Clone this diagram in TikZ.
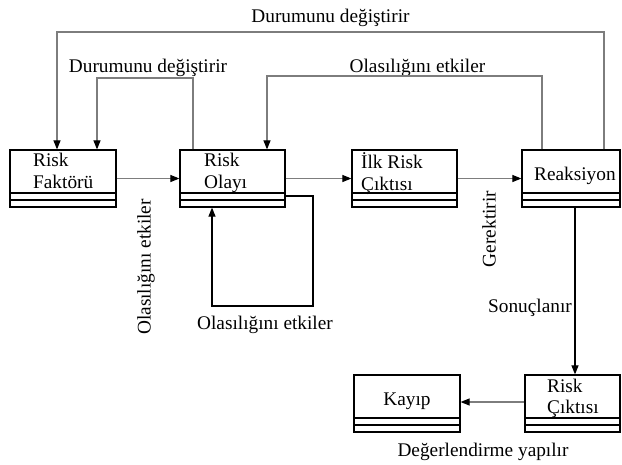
\documentclass[tikz,border=0pt]{standalone}
\usepackage{fontspec}
\setmainfont{Liberation Serif}
\usetikzlibrary{arrows.meta}
\definecolor{lg}{RGB}{125,125,125}
\begin{document}
\begin{tikzpicture}[x=1pt,y=-1pt,
  box/.style={draw=black, line width=1.2pt, rectangle, inner sep=0pt, minimum height=57pt,
    path picture={
      \draw[line width=1.2pt] ([yshift=14pt]path picture bounding box.south west) -- ([yshift=14pt]path picture bounding box.south east);
      \draw[line width=1.2pt] ([yshift=7pt]path picture bounding box.south west) -- ([yshift=7pt]path picture bounding box.south east);}},
  txt/.style={inner sep=0pt, font=\fontsize{19.3}{22}\selectfont},
  gline/.style={draw=lg, line width=1.1pt},
  bline/.style={draw=black, line width=1.1pt},
  arr/.style={-{Triangle[length=9pt,width=7pt,color=black]}}
]
\useasboundingbox (0,0) rectangle (622,464);

% boxes
\node[box, minimum width=106pt] (rf) at (63,178.5) {};
\node[box, minimum width=105pt] (ro) at (232.5,178.5) {};
\node[box, minimum width=105pt] (ilk) at (404.5,178.5) {};
\node[box, minimum width=98pt] (rx) at (571,178.5) {};
\node[box, minimum width=95pt] (rc) at (572.5,403.5) {};
\node[box, minimum width=106pt] (ky) at (407,403.5) {};

% box texts
\node[txt, anchor=base west] (rf1) at (33,166) {Risk};
\node[txt, anchor=base west] (rf2) at (33,188) {Faktörü};
\node[txt, anchor=base west] (ro1) at (204,166) {Risk};
\node[txt, anchor=base west] (ro2) at (204,188) {Olayı};
\node[txt, anchor=base west] (ilk1) at (361,168) {İlk Risk};
\node[txt, anchor=base west] (ilk2) at (361,190) {Çıktısı};
\node[txt, anchor=base west] (rx1) at (534,180) {Reaksiyon};
\node[txt, anchor=base west] (rc1) at (547,392) {Risk};
\node[txt, anchor=base west] (rc2) at (547,413) {Çıktısı};
\node[txt, anchor=base] (ky1) at (407,405) {Kayıp};

% labels
\node[txt, anchor=base] (l1) at (330.5,22) {Durumunu değiştirir};
\node[txt, anchor=base] (l2) at (148,72) {Durumunu değiştirir};
\node[txt, anchor=base] (l3) at (417.5,72) {Olasılığını etkiler};
\node[txt, anchor=base] (l4) at (265,329) {Olasılığını etkiler};
\node[txt, rotate=90] (l5) at (146,267) {Olasılığını etkiler};
\node[txt, rotate=90] (l6) at (489,229) {Gerektirir};
\node[txt, anchor=base] (l7) at (530,312) {Sonuçlanır};
\node[txt, anchor=base] (l8) at (483,456) {Değerlendirme yapılır};

% connectors
\draw[gline,arr] (rf.east) -- (ro.west);
\draw[gline,arr] (ro.east) -- (ilk.west);
\draw[gline,arr] (ilk.east) -- (rx.west);
\draw[gline,arr] (604,0 |- rx.north) -- (604,32) -- (57,32) -- (57,0 |- rf.north);
\draw[gline,arr] (193,0 |- ro.north) -- (193,78) -- (97,78) -- (97,0 |- rf.north);
\draw[gline,arr] (542,0 |- rx.north) -- (542,76) -- (267,76) -- (267,0 |- ro.north);
\draw[bline,arr] (ro.east |- 0,196) -- (313,196) -- (313,306) -- (212,306) -- (212,0 |- ro.south);
\draw[bline,arr] (575,0 |- rx.south) -- (575,0 |- rc.north);
\draw[gline,arr] (rc.west |- 0,402) -- (ky.east |- 0,402);
\end{tikzpicture}
\end{document}
